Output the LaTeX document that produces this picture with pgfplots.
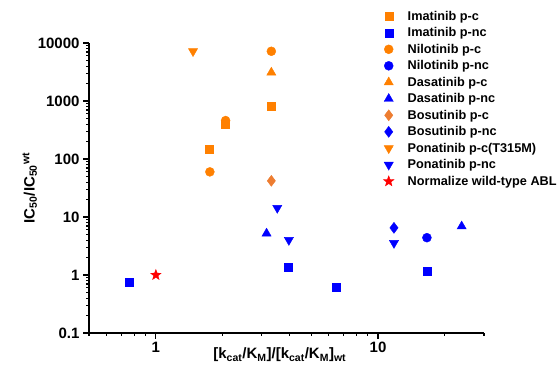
\documentclass[border=0pt]{standalone}
\usepackage{pgfplots}
\pgfplotsset{compat=1.18}
\usepackage{fontspec}
\setmainfont{Liberation Sans}
\definecolor{myorange}{RGB}{255,128,0}
\definecolor{bosorange}{RGB}{237,125,49}
\definecolor{myblue}{RGB}{0,0,255}
\definecolor{myred}{RGB}{255,0,0}
\pgfdeclareplotmark{fstar}{%
  \pgfpathmoveto{\pgfpointpolar{90}{\pgfplotmarksize}}%
  \pgfpathlineto{\pgfpointpolar{126}{0.42\pgfplotmarksize}}%
  \pgfpathlineto{\pgfpointpolar{162}{\pgfplotmarksize}}%
  \pgfpathlineto{\pgfpointpolar{198}{0.42\pgfplotmarksize}}%
  \pgfpathlineto{\pgfpointpolar{234}{\pgfplotmarksize}}%
  \pgfpathlineto{\pgfpointpolar{270}{0.42\pgfplotmarksize}}%
  \pgfpathlineto{\pgfpointpolar{306}{\pgfplotmarksize}}%
  \pgfpathlineto{\pgfpointpolar{342}{0.42\pgfplotmarksize}}%
  \pgfpathlineto{\pgfpointpolar{18}{\pgfplotmarksize}}%
  \pgfpathlineto{\pgfpointpolar{54}{0.42\pgfplotmarksize}}%
  \pgfpathclose\pgfusepathqfillstroke}
\begin{document}
\begin{tikzpicture}[x=1pt,y=1pt]
\useasboundingbox (-89,-47) rectangle (468,333);
\begin{axis}[
  scale only axis,
  width=395pt, height=290pt,
  xmode=log, ymode=log,
  xmin=0.5, xmax=30, ymin=0.1, ymax=10000,
  axis x line*=bottom, axis y line*=left,
  axis line style={line width=1.3pt, black},
  tick align=outside,
  major tick length=6pt, minor tick length=3pt,
  every tick/.style={black, line width=1.1pt},
  minor tick num=9,
  xtick={1,10}, xticklabels={1,10},
  minor xtick={0.5,0.6,0.7,0.8,0.9,2,3,4,5,6,7,8,9,20,30},
  ytick={0.1,1,10,100,1000,10000},
  yticklabels={0.1,1,10,100,1000,10000},
  /pgf/number format/assume math mode=true,
  tick label style={font=\bfseries\fontsize{15}{15}\selectfont},
  xlabel={[k\textsubscript{cat}/K\textsubscript{M}]/[k\textsubscript{cat}/K\textsubscript{M}]\textsubscript{wt}},
  ylabel={IC\textsubscript{50}/IC\textsubscript{50}\textsuperscript{wt}},
  label style={font=\bfseries\fontsize{15}{15}\selectfont},
  xlabel style={at={(axis description cs:0.483,-0.076)}, anchor=center},
  ylabel style={at={(axis description cs:-0.15,0.5)}, anchor=center},
  legend style={draw=none, fill=none, at={(rel axis cs:0.733,1.125)}, anchor=north west,
    font=\bfseries\fontsize{12.7}{12.7}\selectfont, row sep=1.8pt,
    /tikz/every odd column/.append style={column sep=10pt}},
  legend cell align=left,
  legend image code/.code={\path[draw=none,fill=none] (0pt,0pt) rectangle (14pt,0pt); \draw plot coordinates {(7pt,0pt)};},
]
\addplot[only marks, mark=square*, mark size=4, color=myorange] coordinates {(1.73,145) (2.06,400) (3.31,800)};
\addlegendentry{Imatinib p-c}
\addplot[only marks, mark=square*, mark size=4, color=myblue] coordinates {(0.757,0.76) (3.95,1.37) (6.47,0.62) (16.6,1.17)};
\addlegendentry{Imatinib p-nc}
\addplot[only marks, mark=*, mark size=4.5, color=myorange] coordinates {(1.75,60) (2.06,460) (3.31,7200)};
\addlegendentry{Nilotinib p-c}
\addplot[only marks, mark=*, mark size=4.5, color=myblue] coordinates {(16.6,4.4)};
\addlegendentry{Nilotinib p-nc}
\addplot[only marks, mark=triangle*, mark size=5.3, color=myorange] coordinates {(3.31,3100)};
\addlegendentry{Dasatinib p-c}
\addplot[only marks, mark=triangle*, mark size=5.3, color=myblue] coordinates {(3.15,5.2) (23.8,6.9)};
\addlegendentry{Dasatinib p-nc}
\addplot[only marks, mark=diamond*, mark size=5.5, color=bosorange] coordinates {(3.31,42)};
\addlegendentry{Bosutinib p-c}
\addplot[only marks, mark=diamond*, mark size=5.5, color=myblue] coordinates {(11.8,6.5)};
\addlegendentry{Bosutinib p-nc}
\addplot[only marks, mark=triangle*, mark options={rotate=180}, mark size=5.3, color=myorange] coordinates {(1.47,7200)};
\addlegendentry{Ponatinib p-c(T315M)}
\addplot[only marks, mark=triangle*, mark options={rotate=180}, mark size=5.3, color=myblue] coordinates {(3.52,14.3) (3.97,4.0) (11.8,3.55)};
\addlegendentry{Ponatinib p-nc}
\addplot[only marks, mark=fstar, mark size=5.5, color=myred] coordinates {(1,1)};
\addlegendentry{Normalize wild-type ABL}
\end{axis}
\end{tikzpicture}
\end{document}
